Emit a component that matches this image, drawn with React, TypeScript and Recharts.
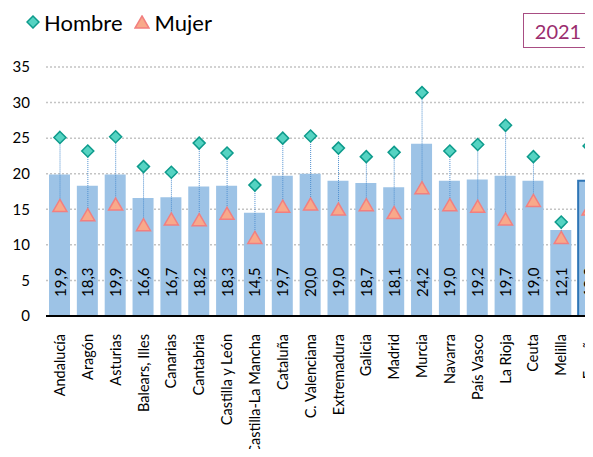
import { Bar, CartesianGrid, Cell, ComposedChart, LabelList, Line, XAxis, YAxis } from "recharts";

const regiones = [
  "Andalucía", "Aragón", "Asturias", "Balears, Illes", "Canarias", "Cantabria",
  "Castilla y León", "Castilla-La Mancha", "Cataluña", "C. Valenciana", "Extremadura",
  "Galicia", "Madrid", "Murcia", "Navarra", "País Vasco", "La Rioja", "Ceuta", "Melilla", "España",
];
const total = [19.9, 18.3, 19.9, 16.6, 16.7, 18.2, 18.3, 14.5, 19.7, 20.0, 19.0, 18.7, 18.1, 24.2, 19.0, 19.2, 19.7, 19.0, 12.1, 19.0];
const hombre = [25.1, 23.2, 25.2, 21.0, 20.2, 24.3, 22.9, 18.4, 25.0, 25.3, 23.6, 22.4, 23.0, 31.4, 23.2, 24.1, 26.8, 22.4, 13.2, 23.9];
const mujer = [15.4, 14.1, 15.6, 12.7, 13.5, 13.4, 14.3, 10.9, 15.3, 15.6, 14.9, 15.5, 14.4, 17.9, 15.5, 15.3, 13.5, 16.1, 10.9, 14.9];
const yTicks = [0, 5, 10, 15, 20, 25, 30, 35];

const data = regiones.map((r, i) => ({
  region: r,
  total: total[i],
  hombre: hombre[i],
  mujer: mujer[i],
  rango: [mujer[i], hombre[i]],
}));

const FONT = "Lato, 'Open Sans', sans-serif";

const Diamond = (props: any) => {
  const { cx, cy } = props;
  if (cx == null || cy == null) return null;
  const r = 6;
  return (
    <path
      d={`M${cx},${cy - r}L${cx + r},${cy}L${cx},${cy + r}L${cx - r},${cy}Z`}
      fill="#55d3c2"
      stroke="#0e9b8c"
      strokeWidth={1.5}
    />
  );
};

const Triangle = (props: any) => {
  const { cx, cy } = props;
  if (cx == null || cy == null) return null;
  return (
    <path
      d={`M${cx},${cy - 7}L${cx + 7},${cy + 5}L${cx - 7},${cy + 5}Z`}
      fill="#f8a98a"
      stroke="#f27f7f"
      strokeWidth={1.5}
    />
  );
};

// thin dotted line joining the two markers of each region
const Connector = (props: any) => {
  const { x, y, width, height } = props;
  if (x == null) return null;
  const cx = x + width / 2;
  return <line x1={cx} x2={cx} y1={y} y2={y + height} stroke="#4f8fcf" strokeWidth={1} strokeDasharray="1 1" />;
};

const BarLabel = (props: any) => {
  const { x, y, width, height, value, index } = props;
  const px = x + width / 2;
  const py = y + height - 19;
  return (
    <text
      x={px}
      y={py}
      transform={`rotate(-90 ${px} ${py})`}
      textAnchor="start"
      dominantBaseline="central"
      fontSize={15}
      fontFamily={FONT}
      fontWeight={index === regiones.length - 1 ? 700 : 400}
      fill="#000"
    >
      {Number(value).toFixed(1).replace(".", ",")}
    </text>
  );
};

const RegionTick = (props: any) => {
  const { x, y, payload } = props;
  return (
    <g transform={`translate(${x},${y})`}>
      <text
        x={0}
        y={0}
        transform="rotate(-90)"
        dx={-10}
        dy="0.35em"
        textAnchor="end"
        fontSize={14.5}
        fontFamily={FONT}
        fill="#000"
      >
        {payload.value}
      </text>
    </g>
  );
};

export default function App() {
  return (
    <div
      style={{
        position: "relative",
        width: 585,
        height: 449,
        marginBottom: -8,
        overflow: "hidden",
        fontFamily: FONT,
      }}
    >
      <ComposedChart
        width={600}
        height={470}
        data={data}
        margin={{ top: 59, right: 5, bottom: 0, left: 0 }}
      >
        <CartesianGrid vertical={false} stroke="#c4c4c4" strokeDasharray="2 2" strokeWidth={1.5} />
        <XAxis
          dataKey="region"
          interval={0}
          height={162}
          tick={<RegionTick />}
          tickLine={false}
          axisLine={{ stroke: "#000", strokeWidth: 2 }}
        />
        <XAxis xAxisId="r" dataKey="region" hide />
        <YAxis
          width={38}
          domain={[0, 35]}
          ticks={yTicks}
          axisLine={false}
          tickLine={false}
          tickSize={12}
          tickMargin={4}
          tick={{ fontSize: 15, fill: "#000", fontFamily: FONT }}
        />
        <Bar dataKey="total" barSize={21} fill="#9dc3e6" isAnimationActive={false}>
          {data.map((d, i) => (
            <Cell
              key={d.region}
              fill="#9dc3e6"
              stroke={i === data.length - 1 ? "#2e75b6" : "none"}
              strokeWidth={i === data.length - 1 ? 2 : 0}
            />
          ))}
          <LabelList dataKey="total" content={<BarLabel />} />
        </Bar>
        <Bar xAxisId="r" dataKey="rango" barSize={2} shape={<Connector />} isAnimationActive={false} />
        <Line dataKey="mujer" stroke="none" dot={<Triangle />} activeDot={false} isAnimationActive={false} />
        <Line dataKey="hombre" stroke="none" dot={<Diamond />} activeDot={false} isAnimationActive={false} />
      </ComposedChart>

      <div style={{ position: "absolute", left: 18, top: 0, height: 28, display: "flex", alignItems: "center", fontSize: 22, color: "#000" }}>
        <svg width={14} height={14} style={{ marginRight: 4 }}>
          <path d="M7,1L13,7L7,13L1,7Z" fill="#55d3c2" stroke="#0e9b8c" strokeWidth={1.5} />
        </svg>
        <span>Hombre</span>
        <svg width={16} height={14} style={{ marginLeft: 11, marginRight: 5 }}>
          <path d="M8,1L15,13L1,13Z" fill="#f8a98a" stroke="#f27f7f" strokeWidth={1.5} />
        </svg>
        <span>Mujer</span>
      </div>

      <div
        style={{
          position: "absolute",
          left: 515,
          top: 5,
          width: 70,
          height: 35,
          border: "1px solid #a84d83",
          color: "#9b2d6e",
          fontSize: 20,
          display: "flex",
          alignItems: "center",
          justifyContent: "center",
          boxSizing: "border-box",
        }}
      >
        2021
      </div>
    </div>
  );
}
